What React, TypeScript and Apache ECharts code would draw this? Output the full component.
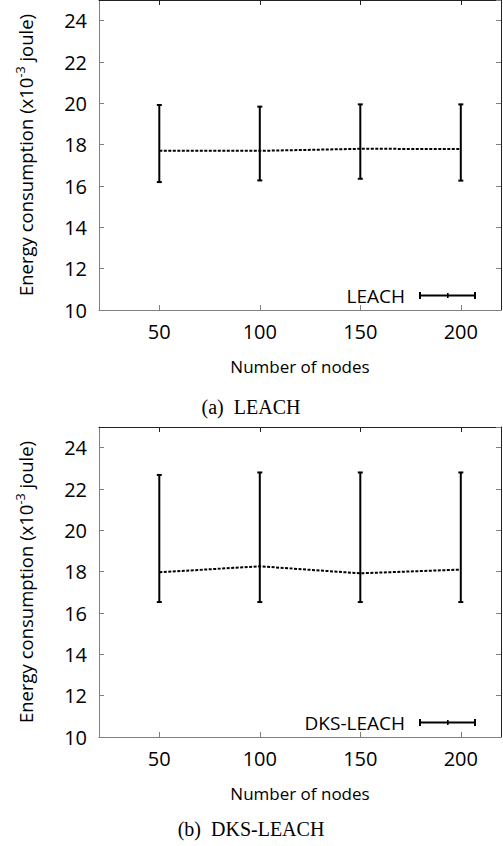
import React, { useEffect, useRef } from "react";
import * as echarts from "echarts";

const nodeCounts = [50, 100, 150, 200];
const xTicks = [50, 100, 150, 200];

const leachMean = [17.7, 17.7, 17.8, 17.79];
const leachLow = [16.19, 16.27, 16.35, 16.26];
const leachHigh = [19.92, 19.84, 19.95, 19.95];

const dksMean = [17.97, 18.26, 17.92, 18.1];
const dksLow = [16.53, 16.53, 16.53, 16.53];
const dksHigh = [22.68, 22.8, 22.8, 22.8];

const FONT = "Open Sans";
const GRAY = "#808080";
const DARK = "#222";
const LEGEND_ICON =
  "path://M0,0h2v7h-2z M0,2.5h57v2h-57z M55,0h2v7h-2z M28,1h1.6v5h-1.6z";

function errorRender(params: any, api: any) {
  const x = api.value(0);
  const lo = api.coord([x, api.value(1)]);
  const hi = api.coord([x, api.value(2)]);
  const cap = 2.5;
  const style = { stroke: "#000", lineWidth: 2 };
  return {
    type: "group",
    children: [
      { type: "line", shape: { x1: lo[0], y1: lo[1], x2: hi[0], y2: hi[1] }, style },
      { type: "line", shape: { x1: lo[0] - cap, y1: lo[1], x2: lo[0] + cap, y2: lo[1] }, style },
      { type: "line", shape: { x1: hi[0] - cap, y1: hi[1], x2: hi[0] + cap, y2: hi[1] }, style },
    ],
  };
}

export default function App() {
  const ref = useRef<HTMLDivElement>(null);
  useEffect(() => {
    document.body.style.margin = "0";
    const chart = echarts.init(ref.current!, null, { renderer: "svg" });
    const grids = [
      { left: 99, top: 0, width: 402, height: 310 },
      { left: 99, top: 427, width: 402, height: 310 },
    ];
    const xAxes: any[] = [];
    const yAxes: any[] = [];
    grids.forEach((_, g) => {
      xAxes.push({
        gridIndex: g,
        type: "value",
        min: 20,
        max: 220,
        position: "bottom",
        axisLine: { lineStyle: { color: GRAY, width: 1 } },
        axisTick: { inside: true, length: 5, customValues: xTicks, lineStyle: { color: GRAY } },
        axisLabel: { customValues: xTicks, fontSize: 20, fontFamily: FONT, color: "#000", margin: 11 },
        splitLine: { show: false },
        name: "Number of nodes",
        nameLocation: "middle",
        nameGap: 48,
        nameTextStyle: { fontSize: 17, fontFamily: FONT, color: "#000" },
      });
      xAxes.push({
        gridIndex: g,
        type: "value",
        min: 20,
        max: 220,
        position: "top",
        axisLine: { lineStyle: { color: DARK, width: 1 } },
        axisTick: { inside: true, length: 5, customValues: xTicks, lineStyle: { color: DARK } },
        axisLabel: { show: false },
        splitLine: { show: false },
      });
      yAxes.push({
        gridIndex: g,
        type: "value",
        min: 10,
        max: 25,
        interval: 2,
        position: "left",
        axisLine: { show: true, lineStyle: { color: GRAY, width: 1 } },
        axisTick: { show: true, inside: true, length: 5, lineStyle: { color: GRAY } },
        axisLabel: { fontSize: 20, fontFamily: FONT, color: "#000", margin: 12, showMaxLabel: false },
        splitLine: { show: false },
        name: "Energy consumption (x10{sup|-3} joule)",
        nameLocation: "middle",
        nameGap: 62,
        nameTextStyle: {
          fontSize: 18.5,
          fontFamily: FONT,
          color: "#000",
          rich: {
            sup: { fontSize: 12.5, fontFamily: FONT, color: "#000", verticalAlign: "top", padding: [0, 0, 10, 0] },
          },
        },
      });
      yAxes.push({
        gridIndex: g,
        type: "value",
        min: 10,
        max: 25,
        interval: 2,
        position: "right",
        axisLine: { show: true, lineStyle: { color: DARK, width: 1 } },
        axisTick: { show: true, inside: true, length: 5, lineStyle: { color: GRAY } },
        axisLabel: { show: false },
        splitLine: { show: false },
      });
    });

    const sets = [
      { name: "LEACH", mean: leachMean, low: leachLow, high: leachHigh },
      { name: "DKS-LEACH", mean: dksMean, low: dksLow, high: dksHigh },
    ];
    const series: any[] = [];
    sets.forEach((s, g) => {
      series.push({
        type: "line",
        name: s.name + " mean",
        xAxisIndex: g * 2,
        yAxisIndex: g * 2,
        data: nodeCounts.map((c, i) => [c, s.mean[i]]),
        symbol: "none",
        lineStyle: { color: "#000", width: 2, type: [3, 1.5] },
        z: 3,
      });
      series.push({
        type: "custom",
        name: s.name,
        xAxisIndex: g * 2,
        yAxisIndex: g * 2,
        data: nodeCounts.map((c, i) => [c, s.low[i], s.high[i]]),
        renderItem: errorRender,
        itemStyle: { color: "#000" },
        z: 4,
      });
    });

    const legendBase = {
      align: "right",
      right: 27,
      itemWidth: 57,
      itemHeight: 7,
      selectedMode: false,
      textStyle: { fontSize: 19, fontFamily: FONT, color: "#000", padding: [0, 9, 0, 0] },
      itemStyle: { color: "#000" },
    };

    chart.setOption({
      animation: false,
      backgroundColor: "#fff",
      grid: grids,
      xAxis: xAxes,
      yAxis: yAxes,
      series,
      legend: [
        { ...legendBase, top: 281, right: 22, data: [{ name: "LEACH", icon: LEGEND_ICON }] },
        { ...legendBase, top: 708, right: 22, data: [{ name: "DKS-LEACH", icon: LEGEND_ICON }] },
      ],
      graphic: [
        {
          type: "text",
          x: 251,
          y: 407,
          style: {
            text: "(a)  LEACH",
            fontSize: 20,
            fontFamily: "Liberation Serif",
            fill: "#000",
            align: "center",
            verticalAlign: "middle",
          },
        },
        {
          type: "text",
          x: 251,
          y: 829,
          style: {
            text: "(b)  DKS-LEACH",
            fontSize: 20,
            fontFamily: "Liberation Serif",
            fill: "#000",
            align: "center",
            verticalAlign: "middle",
          },
        },
      ],
    });
    return () => chart.dispose();
  }, []);
  return <div ref={ref} style={{ width: 503, height: 846 }} />;
}
